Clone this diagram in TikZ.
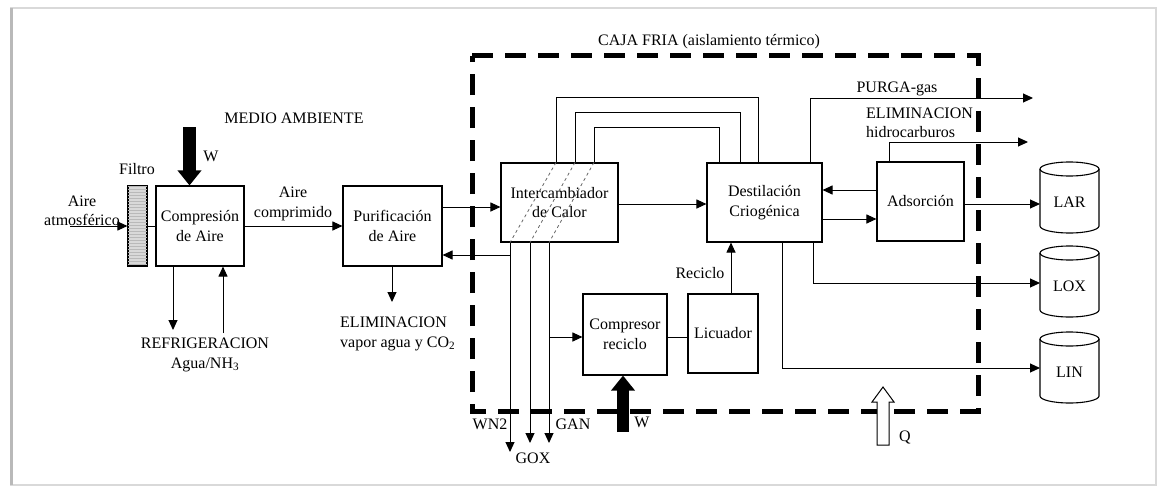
\documentclass[tikz,border=0pt]{standalone}
\usepackage{fontspec}
\setmainfont{Liberation Serif}
\usetikzlibrary{arrows.meta,calc,patterns}
\newcommand\tankshape[1]{%
  \draw[line width=1.1pt] ($(#1)+(-29.5,-33)$) -- ($(#1)+(-29.5,24)$)
     arc[start angle=180,end angle=360,x radius=29.5pt,y radius=7pt]
     -- ($(#1)+(29.5,-33)$);
  \draw[line width=1.1pt] ($(#1)+(0,-33)$) ellipse [x radius=29.5pt, y radius=7pt];}
\begin{document}
\begin{tikzpicture}[x=1pt,y=-1pt,
  every node/.style={font=\fontsize{16}{19.5}\selectfont, inner sep=0pt},
  box/.style={draw, line width=1.1pt, align=center},
  lbl/.style={align=center},
  ln/.style={line width=1pt},
  arr/.style={line width=1pt, -{Triangle[length=10pt,width=9pt]}},
  fat/.style={line width=12.5pt, -{Triangle[length=15pt,width=23pt]}},
  cold/.style={line width=5pt, dash pattern=on 21pt off 12pt},
  hx/.style={dashed, black!60, line width=0.8pt},
]
\useasboundingbox (0,0) rectangle (1158,487);
\draw[gray!30, line width=1.5pt] (11,8) rectangle (1156,485);
\draw[gray!55, line width=3pt] (11,8) -- (11,485);

% cold box
\draw[cold] (472,56) -- (978,56) -- (978,411) -- (472,411) -- cycle;
\node (lcaja) at (709,42) {CAJA FRIA (aislamiento térmico)};

% boxes
\node[draw, fill=gray!30, line width=1.1pt, minimum width=19pt, minimum height=80pt] (filtro) at (137.5,226) {};
\path[pattern=horizontal lines, pattern color=gray!55] (filtro.south west) rectangle (filtro.north east);
\draw[line width=1.1pt] (filtro.south west) rectangle (filtro.north east);
\node[box, minimum width=88pt, minimum height=80pt] (comp) at (200,226) {Compresión\\de Aire};
\node[box, minimum width=99pt, minimum height=80pt] (purif) at (392.5,226) {Purificación\\de Aire};
\node[box, minimum width=117pt, minimum height=79pt] (inter) at (559.5,202.5) {Intercambiador\\de Calor};
\node[box, minimum width=115pt, minimum height=79pt] (dest) at (764.5,202.5) {Destilación\\Criogénica};
\node[box, minimum width=87pt, minimum height=79pt] (ads) at (920.5,201.5) {Adsorción};
\node[box, minimum width=84pt, minimum height=81pt] (compr) at (625,334.5) {Compresor\\reciclo};
\node[box, minimum width=70pt, minimum height=79pt] (licu) at (723,333.5) {Licuador};

% tanks
\node (lar) at (1069.5,202) {LAR};
\node (lox) at (1069.5,286) {LOX};
\node (lin) at (1069.5,372) {LIN};
\tankshape{lar}
\tankshape{lox}
\tankshape{lin}

% labels
\node (lfiltro) at (137,169) {Filtro};
\node (lmedio) at (294,118) {MEDIO AMBIENTE};
\node (lw1) at (211,156) {W};
\node[lbl] (laire) at (82,211) {Aire\\atmosférico};
\node[lbl] (lcomp) at (293,204) {Aire\\comprimido};
\node[lbl] (lrefri) at (205,355) {REFRIGERACION\\Agua/NH\textsubscript{3}};
\node[align=left, anchor=west] (lelim) at (340,334) {ELIMINACION\\vapor agua y CO\textsubscript{2}};
\node (lpurga) at (897,89) {PURGA-gas};
\node[align=left, anchor=west] (lhidro) at (866,123) {ELIMINACION\\hidrocarburos};
\node (lrec) at (700,273) {Reciclo};
\node (lwn2) at (490,424) {WN2};
\node (lgox) at (533,458) {GOX};
\node (lgan) at (573,424) {GAN};
\node (lw2) at (642,422) {W};
\node (lq) at (905,437) {Q};

% free ends
\coordinate (ain) at (70,226);
\coordinate (wtop) at (189.5,127);
\coordinate (refout) at (173,330);
\coordinate (refin) at (223,333);
\coordinate (elimout) at (392,302);
\coordinate (wn2) at (510,452);
\coordinate (gox) at (530,443);
\coordinate (gan) at (549,443);
\coordinate (wnbr) at (510,255);
\coordinate (ganbr) at (549,337);
\coordinate (wbot) at (623,432);
\coordinate (purga) at (1033,98);
\coordinate (hidro) at (1028,142);
\coordinate (larin) at ($(lar)+(-29.5,2)$);
\coordinate (loxin) at ($(lox)+(-29.5,-3)$);
\coordinate (linin) at ($(lin)+(-29.5,-4)$);

% connectors left part
\draw[arr] (ain) -- (filtro.west);
\draw[ln] (filtro.east) -- (comp.west);
\draw[fat] (wtop) -- (comp.north -| wtop);
\draw[arr] (comp.east) -- (purif.west);
\draw[arr] (comp.south -| refout) -- (refout);
\draw[arr] (refin) -- (comp.south -| refin);
\draw[arr] (purif.south -| elimout) -- (elimout);
\draw[arr] (purif.east |- 0,207) -- (inter.west |- 0,207);

% heat exchanger loops
\draw[ln] (inter.north -| 556,0) |- (758,97) -- (dest.north -| 758,0);
\draw[ln] (inter.north -| 575,0) |- (740,112) -- (dest.north -| 740,0);
\draw[ln] (inter.north -| 594,0) |- (719,127) -- (dest.north -| 719,0);
\draw[hx] (inter.north -| 556,0) -- (inter.south -| 510,0);
\draw[hx] (inter.north -| 575,0) -- (inter.south -| 530,0);
\draw[hx] (inter.north -| 594,0) -- (inter.south -| 549,0);
\draw[arr] (inter.east |- 0,204) -- (dest.west |- 0,204);

% outlets
\draw[arr] (inter.south -| wn2) -- (wn2);
\draw[arr] (inter.south -| gox) -- (gox);
\draw[arr] (inter.south -| gan) -- (gan);
\draw[arr] (wnbr) -- (purif.east |- wnbr);
\draw[arr] (ganbr) -- (compr.west |- ganbr);
\draw[ln] (compr.east |- ganbr) -- (licu.west |- ganbr);
\draw[arr] (licu.north -| 731,0) -- (dest.south -| 731,0);
\draw[fat] (wbot) -- (compr.south -| wbot);

% distillation outputs
\draw[arr] (dest.north -| 810,0) |- (purga);
\draw[arr] (ads.north -| 889,0) |- (hidro);
\draw[arr] (ads.west |- 0,190) -- (dest.east |- 0,190);
\draw[arr] (dest.east |- 0,219) -- (ads.west |- 0,219);
\draw[arr] (ads.east |- larin) -- (larin);
\draw[arr] (dest.south -| 813,0) |- (loxin);
\draw[arr] (dest.south -| 782,0) |- (linin);

% heat leak
\draw[line width=1pt, fill=white, shift={(883,445)}] (-6,0) -- (-6,-43) -- (-11,-43) -- (0,-58) -- (11,-43) -- (6,-43) -- (6,0) -- cycle;
\end{tikzpicture}
\end{document}
